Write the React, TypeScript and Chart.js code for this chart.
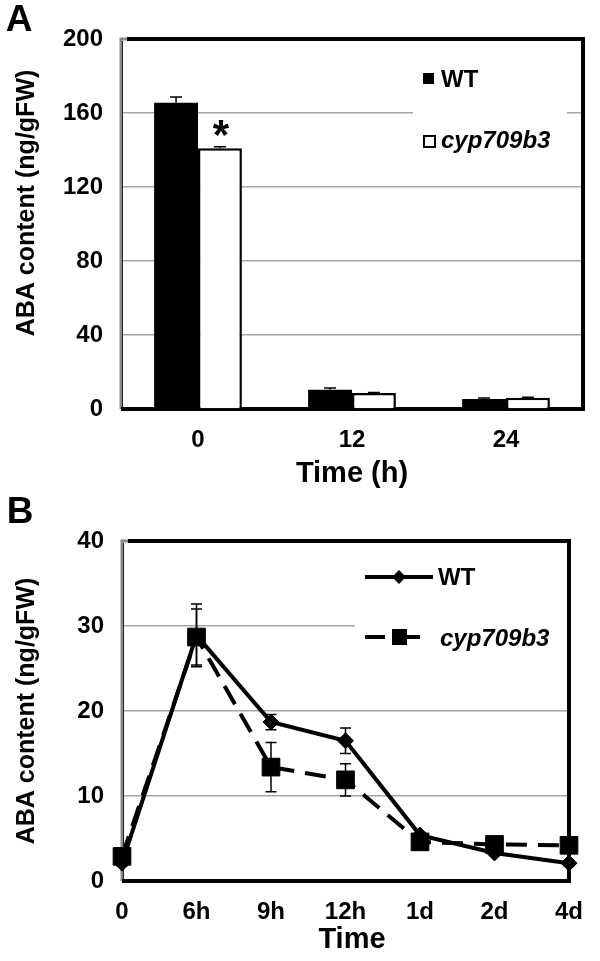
import React, { useEffect, useRef } from 'react';
import { Chart, registerables } from 'chart.js';

Chart.register(...registerables);

// ---------- Panel A data (bar chart) ----------
const barCategories = ['0', '12', '24'];
const wtBar = [165.5, 10.4, 5.4];
const wtBarErr = [3.2, 1.0, 0.5];
const cypBar = [141.0, 8.6, 6.1];
const cypBarErr = [0.8, 0.3, 0.3];
const barYMax = 200;
const barYStep = 40;

// ---------- Panel B data (line chart) ----------
const timeLabels = ['0', '6h', '9h', '12h', '1d', '2d', '4d'];
const wtLine = [2.1, 28.9, 18.7, 16.5, 5.4, 3.3, 2.1];
const wtLineErr = [0.3, 3.7, 0.9, 1.5, 0.3, 0.3, 0.3];
const cypLine = [2.9, 28.7, 13.4, 11.9, 4.6, 4.3, 4.2];
const cypLineErr = [0.3, 3.3, 2.9, 1.9, 0.3, 0.3, 0.3];
const lineYMax = 40;
const lineYStep = 10;

const seriesNames = ['WT', 'cyp709b3'];
const yTitle = 'ABA content (ng/gFW)';
const xTitleA = 'Time (h)';
const xTitleB = 'Time';

const FONT = '"Liberation Sans", Arial, Helvetica, sans-serif';

function txt(ctx: CanvasRenderingContext2D, s: string, x: number, y: number, font: string, align: CanvasTextAlign = 'center') {
  ctx.save();
  ctx.font = font;
  ctx.fillStyle = '#000';
  ctx.textAlign = align;
  ctx.textBaseline = 'middle';
  ctx.fillText(s, x, y);
  ctx.restore();
}

function drawFrame(chart: any) {
  const { ctx, chartArea: a } = chart;
  ctx.save();
  ctx.lineCap = 'butt';
  ctx.lineJoin = 'miter';
  ctx.strokeStyle = '#8a8a8a';
  ctx.lineWidth = 3;
  ctx.beginPath();
  ctx.moveTo(a.left, a.bottom);
  ctx.lineTo(a.left, a.top);
  ctx.lineTo(a.left + 8, a.top);
  ctx.stroke();
  ctx.strokeStyle = '#222';
  ctx.lineWidth = 1;
  ctx.beginPath();
  ctx.moveTo(a.left + 1.5, a.bottom);
  ctx.lineTo(a.left + 1.5, a.top + 2);
  ctx.stroke();
  ctx.strokeStyle = '#000';
  ctx.lineWidth = 4;
  ctx.beginPath();
  ctx.moveTo(a.left + 6, a.top);
  ctx.lineTo(a.right, a.top);
  ctx.lineTo(a.right, a.bottom);
  ctx.lineTo(a.left, a.bottom);
  ctx.stroke();
  ctx.restore();
}

function drawErrors(chart: any, errs: number[][], both: boolean, capHalf: number) {
  const { ctx } = chart;
  const ys = chart.scales.y;
  ctx.save();
  ctx.strokeStyle = '#000';
  ctx.lineWidth = 1.5;
  errs.forEach((arr, di) => {
    const meta = chart.getDatasetMeta(di);
    const vals = chart.data.datasets[di].data as number[];
    meta.data.forEach((el: any, i: number) => {
      const v = vals[i];
      const e = arr[i];
      const x = el.x;
      const yT = ys.getPixelForValue(v + e);
      const yB = ys.getPixelForValue(both ? v - e : v);
      ctx.beginPath();
      ctx.moveTo(x, yT);
      ctx.lineTo(x, yB);
      ctx.moveTo(x - capHalf, yT);
      ctx.lineTo(x + capHalf, yT);
      if (both) {
        ctx.moveTo(x - capHalf, yB);
        ctx.lineTo(x + capHalf, yB);
      }
      ctx.stroke();
    });
  });
  ctx.restore();
}

function drawYTitle(ctx: CanvasRenderingContext2D, x: number, y: number) {
  ctx.save();
  ctx.translate(x, y);
  ctx.rotate(-Math.PI / 2);
  ctx.font = `bold 25px ${FONT}`;
  ctx.fillStyle = '#000';
  ctx.textAlign = 'center';
  ctx.textBaseline = 'middle';
  ctx.fillText(yTitle, 0, 0);
  ctx.restore();
}

const tickFont = { family: FONT, size: 24, weight: 'bold' as const };

export default function App() {
  const refA = useRef<HTMLCanvasElement>(null);
  const refB = useRef<HTMLCanvasElement>(null);

  useEffect(() => {
    const pluginA = {
      id: 'decorA',
      beforeDatasetsDraw(chart: any) {
        const { ctx } = chart;
        ctx.save();
        ctx.fillStyle = '#fff';
        ctx.fillRect(413, 100, 154, 25);
        ctx.restore();
        drawFrame(chart);
      },
      afterDatasetsDraw(chart: any) {
        const { ctx } = chart;
        drawErrors(chart, [wtBarErr, cypBarErr], false, 6);
        // significance asterisk above the cyp709b3 bar at time 0
        const el = chart.getDatasetMeta(1).data[0];
        ctx.save();
        ctx.font = `bold 42px ${FONT}`;
        ctx.fillStyle = '#000';
        ctx.textAlign = 'center';
        ctx.textBaseline = 'alphabetic';
        ctx.fillText('*', el.x + 1, el.y + 1);
        ctx.restore();
        // legend
        ctx.save();
        ctx.fillStyle = '#000';
        ctx.fillRect(423, 73, 11, 11);
        ctx.strokeStyle = '#000';
        ctx.lineWidth = 2;
        ctx.strokeRect(424, 136, 11, 11);
        ctx.restore();
        txt(ctx, seriesNames[0], 441, 80, `bold 24px ${FONT}`, 'left');
        txt(ctx, seriesNames[1], 441, 141, `italic bold 24px ${FONT}`, 'left');
        // titles
        txt(ctx, 'A', 19, 21, `bold 37px ${FONT}`);
        drawYTitle(ctx, 27, 203);
        txt(ctx, xTitleA, 352, 474, `bold 29px ${FONT}`);
      },
    };

    const pluginB = {
      id: 'decorB',
      beforeDatasetsDraw(chart: any) {
        const { ctx } = chart;
        ctx.save();
        ctx.fillStyle = '#fff';
        ctx.fillRect(355, 124, 216, 25);
        ctx.restore();
        drawFrame(chart);
      },
      afterDatasetsDraw(chart: any) {
        const { ctx } = chart;
        drawErrors(chart, [wtLineErr, cypLineErr], true, 5.5);
        // legend
        ctx.save();
        ctx.strokeStyle = '#000';
        ctx.fillStyle = '#000';
        ctx.lineWidth = 4;
        ctx.beginPath();
        ctx.moveTo(365, 87);
        ctx.lineTo(433, 87);
        ctx.stroke();
        ctx.beginPath();
        ctx.moveTo(399 - 7, 87);
        ctx.lineTo(399, 87 - 7);
        ctx.lineTo(399 + 7, 87);
        ctx.lineTo(399, 87 + 7);
        ctx.closePath();
        ctx.fill();
        ctx.beginPath();
        ctx.moveTo(365, 147);
        ctx.lineTo(385, 147);
        ctx.moveTo(405, 147);
        ctx.lineTo(420, 147);
        ctx.stroke();
        ctx.fillRect(392, 139, 15, 16);
        ctx.restore();
        txt(ctx, seriesNames[0], 438, 88, `bold 24px ${FONT}`, 'left');
        txt(ctx, seriesNames[1], 440, 149, `italic bold 24px ${FONT}`, 'left');
        txt(ctx, 'B', 20, 23, `bold 37px ${FONT}`);
        drawYTitle(ctx, 27, 221);
        txt(ctx, xTitleB, 352, 450, `bold 29px ${FONT}`);
      },
    };

    const chartA = new Chart(refA.current!, {
      type: 'bar',
      data: {
        labels: barCategories,
        datasets: [
          {
            label: seriesNames[0],
            data: wtBar,
            backgroundColor: '#000',
            borderWidth: 0,
            barPercentage: 1,
            categoryPercentage: 0.57,
          },
          {
            label: seriesNames[1],
            data: cypBar,
            backgroundColor: '#fff',
            borderColor: '#000',
            borderWidth: 2.5,
            barPercentage: 1,
            categoryPercentage: 0.57,
          },
        ],
      },
      options: {
        responsive: false,
        animation: false,
        layout: { padding: { top: 39, right: 17, bottom: 0, left: 0 } },
        plugins: { legend: { display: false }, tooltip: { enabled: false } },
        scales: {
          x: {
            grid: { display: false, drawTicks: false },
            border: { display: false },
            ticks: { color: '#000', font: tickFont, padding: 17 },
            afterFit(scale: any) { scale.height = 81; },
          },
          y: {
            min: 0,
            max: barYMax,
            grid: { color: '#a6a6a6', lineWidth: 1.5, drawTicks: false },
            border: { display: false },
            ticks: { stepSize: barYStep, color: '#000', font: tickFont, padding: 18 },
            afterFit(scale: any) { scale.width = 121; },
          },
        },
      },
      plugins: [pluginA],
    } as any);

    const chartB = new Chart(refB.current!, {
      type: 'line',
      data: {
        labels: timeLabels,
        datasets: [
          {
            label: seriesNames[0],
            data: wtLine,
            borderColor: '#000',
            borderWidth: 4,
            backgroundColor: '#000',
            pointStyle: 'rectRot',
            pointRadius: 8,
            pointBackgroundColor: '#000',
            pointBorderColor: '#000',
            pointBorderWidth: 1,
            tension: 0,
            order: 1,
            clip: false,
          },
          {
            label: seriesNames[1],
            data: cypLine,
            borderColor: '#000',
            borderWidth: 4,
            borderDash: [21, 11],
            backgroundColor: '#000',
            pointStyle: 'rect',
            pointRadius: 12.5,
            pointBackgroundColor: '#000',
            pointBorderColor: '#000',
            pointBorderWidth: 1,
            tension: 0,
            order: 0,
            clip: false,
          },
        ],
      },
      options: {
        responsive: false,
        animation: false,
        layout: { padding: { top: 51, right: 17, bottom: 0, left: 0 } },
        plugins: { legend: { display: false }, tooltip: { enabled: false } },
        scales: {
          x: {
            offset: false,
            grid: { display: false, drawTicks: false },
            border: { display: false },
            ticks: { color: '#000', font: tickFont, padding: 17 },
            afterFit(scale: any) { scale.height = 80; },
          },
          y: {
            min: 0,
            max: lineYMax,
            grid: { color: '#a6a6a6', lineWidth: 1.5, drawTicks: false },
            border: { display: false },
            ticks: { stepSize: lineYStep, color: '#000', font: tickFont, padding: 18 },
            afterFit(scale: any) { scale.width = 122; },
          },
        },
      },
      plugins: [pluginB],
    } as any);

    return () => {
      chartA.destroy();
      chartB.destroy();
    };
  }, []);

  return (
    <div style={{ position: 'absolute', left: 0, top: 0, width: 600, height: 961, background: '#fff' }}>
      <canvas ref={refA} width={600} height={490} style={{ position: 'absolute', left: 0, top: 0, width: 600, height: 490 }} />
      <canvas ref={refB} width={600} height={471} style={{ position: 'absolute', left: 0, top: 490, width: 600, height: 471 }} />
    </div>
  );
}
